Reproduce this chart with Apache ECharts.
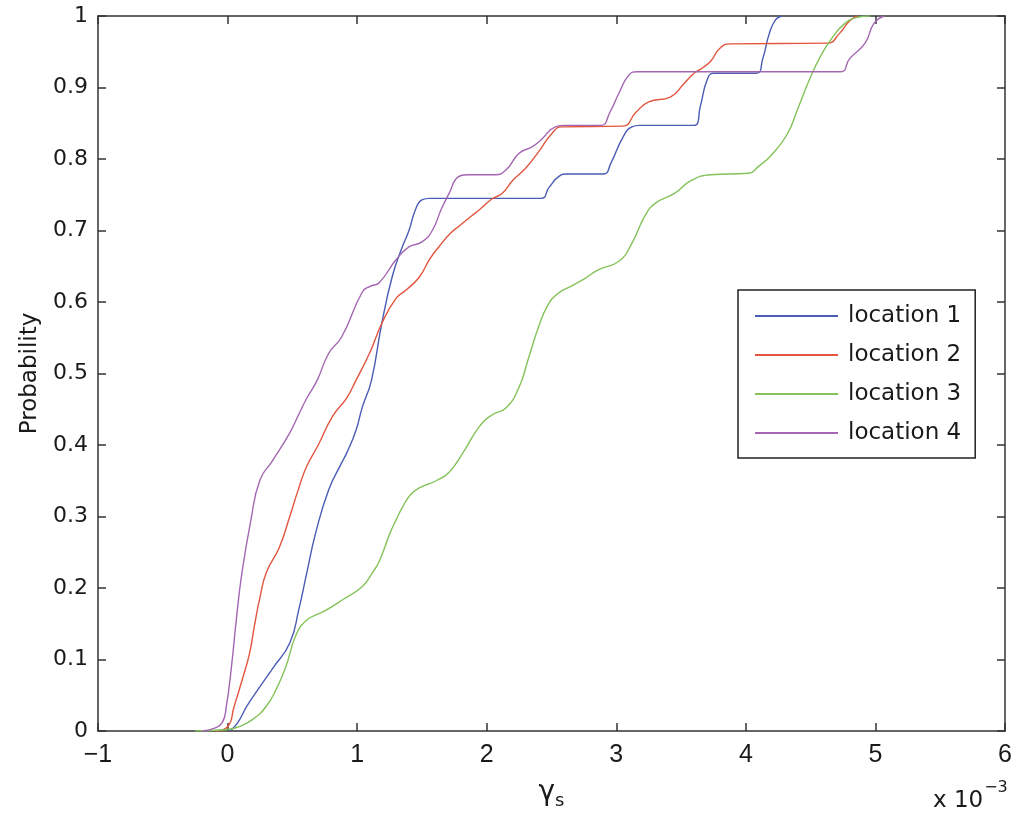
<!DOCTYPE html>
<html>
<head>
<meta charset="utf-8">
<script src="https://cdn.jsdelivr.net/npm/echarts@6/dist/echarts.min.js"></script>
<style>html,body{margin:0;padding:0;background:#fff}#chart{width:1016px;height:820px}</style>
</head>
<body>
<div id="chart"></div>
<script>
// x values in units of 1e-3 (gamma_s), y = probability
var seriesNames = ['location 1', 'location 2', 'location 3', 'location 4'];
var xTicks = [-1, 0, 1, 2, 3, 4, 5, 6];
var yTicks = [0, 0.1, 0.2, 0.3, 0.4, 0.5, 0.6, 0.7, 0.8, 0.9, 1];

var loc1 = [[0.02,0],[0.08,0.012],[0.15,0.035],[0.25,0.062],[0.35,0.088],[0.48,0.123],[0.55,0.17],[0.61,0.22],[0.68,0.277],[0.78,0.337],[0.88,0.375],[0.92,0.389],[0.99,0.42],[1.04,0.453],[1.11,0.49],[1.19,0.57],[1.27,0.635],[1.34,0.673],[1.4,0.7],[1.45,0.729],[1.5,0.743],[1.56,0.745],[2.42,0.745],[2.48,0.76],[2.56,0.776],[2.62,0.779],[2.9,0.779],[2.96,0.795],[3.05,0.83],[3.12,0.845],[3.18,0.847],[3.6,0.847],[3.65,0.875],[3.7,0.91],[3.75,0.92],[4.08,0.92],[4.13,0.94],[4.18,0.975],[4.23,0.995],[4.28,1.0]];

var loc2 = [[-0.1,0],[0.0,0.006],[0.05,0.034],[0.11,0.07],[0.17,0.109],[0.21,0.15],[0.25,0.187],[0.3,0.222],[0.4,0.257],[0.48,0.3],[0.55,0.34],[0.61,0.37],[0.7,0.4],[0.81,0.44],[0.92,0.466],[0.99,0.49],[1.1,0.53],[1.19,0.57],[1.3,0.605],[1.38,0.617],[1.48,0.635],[1.56,0.66],[1.63,0.677],[1.72,0.696],[1.8,0.708],[1.88,0.72],[1.95,0.73],[2.04,0.744],[2.12,0.752],[2.2,0.77],[2.3,0.787],[2.4,0.81],[2.5,0.835],[2.58,0.845],[3.05,0.846],[3.15,0.865],[3.25,0.88],[3.42,0.887],[3.52,0.905],[3.6,0.92],[3.67,0.928],[3.73,0.937],[3.8,0.955],[3.88,0.961],[4.63,0.962],[4.72,0.975],[4.8,0.993],[4.86,1.0]];

var loc3 = [[-0.25,0],[0.0,0.002],[0.09,0.006],[0.2,0.017],[0.3,0.035],[0.38,0.06],[0.45,0.09],[0.53,0.135],[0.61,0.155],[0.69,0.163],[0.76,0.169],[0.9,0.185],[1.04,0.202],[1.12,0.222],[1.17,0.237],[1.25,0.275],[1.3,0.295],[1.35,0.313],[1.41,0.33],[1.48,0.34],[1.61,0.35],[1.71,0.362],[1.82,0.39],[1.94,0.425],[2.04,0.442],[2.15,0.452],[2.25,0.481],[2.32,0.52],[2.4,0.565],[2.47,0.595],[2.55,0.612],[2.65,0.622],[2.75,0.632],[2.86,0.645],[3.02,0.657],[3.12,0.682],[3.22,0.72],[3.3,0.738],[3.45,0.752],[3.58,0.77],[3.73,0.778],[4.02,0.78],[4.1,0.79],[4.2,0.806],[4.32,0.835],[4.4,0.87],[4.5,0.915],[4.58,0.945],[4.66,0.968],[4.76,0.989],[4.86,0.998],[4.96,1.0]];

var loc4 = [[-0.2,0],[-0.1,0.004],[-0.04,0.012],[-0.01,0.034],[0.03,0.09],[0.07,0.16],[0.11,0.22],[0.18,0.295],[0.25,0.351],[0.35,0.379],[0.48,0.417],[0.55,0.443],[0.61,0.465],[0.69,0.49],[0.78,0.528],[0.88,0.551],[1.04,0.614],[1.1,0.622],[1.17,0.627],[1.3,0.659],[1.4,0.677],[1.5,0.684],[1.58,0.7],[1.65,0.73],[1.71,0.752],[1.78,0.775],[1.85,0.778],[2.07,0.778],[2.15,0.785],[2.25,0.808],[2.35,0.817],[2.42,0.827],[2.53,0.845],[2.6,0.847],[2.88,0.847],[2.95,0.865],[3.02,0.892],[3.1,0.918],[3.16,0.922],[4.73,0.922],[4.8,0.94],[4.92,0.962],[4.99,0.99],[5.07,1.0]];

var colors = ['#4a5cb3', '#e2553f', '#84c25a', '#a466b3'];
var allData = [loc1, loc2, loc3, loc4];

var chart = echarts.init(document.getElementById('chart'), null, {renderer: 'canvas'});
var axisColor = '#333';
var txt = '#1a1a1a';
var sans = 'Liberation Sans, Arial, sans-serif';
var wide = 'DejaVu Sans, Verdana, sans-serif';

var xBase = {
  type: 'value', min: xTicks[0], max: xTicks[xTicks.length - 1], interval: 1,
  axisLine: {show: true, onZero: false, lineStyle: {color: axisColor, width: 1.5}},
  axisTick: {show: true, inside: true, length: 8, lineStyle: {color: axisColor, width: 1.5}},
  splitLine: {show: false}
};
var yBase = {
  type: 'value', min: yTicks[0], max: yTicks[yTicks.length - 1], interval: 0.1,
  axisLine: {show: true, onZero: false, lineStyle: {color: axisColor, width: 1.5}},
  axisTick: {show: true, inside: true, length: 8, lineStyle: {color: axisColor, width: 1.5}},
  splitLine: {show: false}
};

var option = {
  backgroundColor: '#fff',
  animation: false,
  grid: {left: 98, right: 11, top: 16, bottom: 89, containLabel: false},
  xAxis: [
    Object.assign({}, xBase, {
      position: 'bottom',
      axisLabel: {show: true, margin: 12, color: txt, fontSize: 25, fontFamily: sans,
        formatter: function (v) { return v < 0 ? '\u2212' + Math.abs(v) : String(v); }},
      name: '{g|\u03b3}{s|s}', nameLocation: 'middle', nameGap: 45,
      nameTextStyle: {rich: {g: {fontSize: 28, color: txt, fontFamily: wide}, s: {fontSize: 18, color: txt, fontFamily: wide, padding: [16, 0, 0, 0]}}}
    }),
    Object.assign({}, xBase, {position: 'top', axisLabel: {show: false}})
  ],
  yAxis: [
    Object.assign({}, yBase, {
      position: 'left',
      axisLabel: {show: true, margin: 10, color: txt, fontSize: 22, fontFamily: wide,
        formatter: function (v) { return String(Math.round(v * 10) / 10); }},
      name: 'Probability', nameLocation: 'middle', nameGap: 56, nameRotate: 90,
      nameTextStyle: {fontSize: 23, color: txt, fontFamily: wide}
    }),
    Object.assign({}, yBase, {position: 'right', axisLabel: {show: false}})
  ],
  legend: {
    orient: 'vertical', left: 738, top: 290,
    data: seriesNames.map(function (n) { return {name: n, icon: 'rect'}; }),
    itemWidth: 83, itemHeight: 2, itemGap: 13,
    padding: [13, 14, 12, 17],
    borderColor: '#222', borderWidth: 1.5, backgroundColor: '#fff',
    textStyle: {fontSize: 23, color: txt, fontFamily: wide, lineHeight: 26, padding: [0, 0, 0, 5]}
  },
  graphic: [{
    type: 'text', left: 933, top: 780,
    style: {
      text: '{a|x 10}{b|\u22123}',
      rich: {a: {fontSize: 23, fill: txt, fontFamily: wide, padding: [14, 0, 0, 0]},
             b: {fontSize: 16, fill: txt, fontFamily: wide, padding: [0, 0, 12, 1]}}
    }
  }],
  series: allData.map(function (d, i) {
    return {
      name: seriesNames[i], type: 'line', data: d,
      xAxisIndex: 0, yAxisIndex: 0,
      symbol: 'none', showSymbol: false,
      smooth: 0.5,
      lineStyle: {color: colors[i], width: 1.4},
      itemStyle: {color: colors[i]},
      z: 2
    };
  })
};
chart.setOption(option);
</script>
</body>
</html>
